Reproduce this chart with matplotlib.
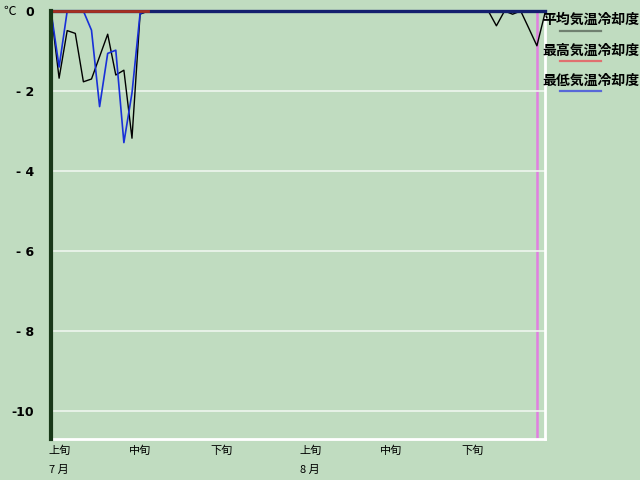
import numpy as np
import matplotlib
matplotlib.use("Agg")
import matplotlib.pyplot as plt
from matplotlib.transforms import blended_transform_factory, ScaledTranslation

# =====================
# 字体
# =====================

plt.rcParams['font.family'] = ['Noto Sans CJK JP', 'DejaVu Sans']
plt.rcParams['axes.unicode_minus'] = False

# =====================
# 数据 (7/1 - 8/31, 日别)
# =====================

avg_cool = [0, -1.68, -0.49, -0.56, -1.77, -1.70, -1.14, -0.58, -1.60, -1.48,
            -3.18, -0.08] + [0] * 43 + [-0.37, 0, -0.08, 0, -0.43, -0.87, -0.05]
max_cool = [0] * 13 + [None] * 49
min_cool = [0, -1.40, 0, 0, 0, -0.48, -2.39, -1.06, -0.98, -3.29,
            -2.05, -0.06] + [0] * 50

days = np.arange(len(avg_cool))
today = 60

tick_days = [0, 10, 20, 31, 41, 51]
tick_labels = ['上旬', '中旬', '下旬', '上旬', '中旬', '下旬']
month_days = [0, 31]
month_labels = ['7 月', '8 月']

y_ticks = [0, -2, -4, -6, -8, -10]
y_labels = ['0', '- 2', '- 4', '- 6', '- 8', '-10']

series_names = ['平均気温冷却度', '最高気温冷却度', '最低気温冷却度']
legend_colors = ['#708070', '#E07070', '#5868D8']

bg = '#C0DCC0'

# =====================
# 图表
# =====================

fig = plt.figure(figsize=(6.4, 4.8), dpi=100, facecolor=bg)
ax = fig.add_axes([51 / 640, 1 - 439 / 480, 494 / 640, 428 / 480])
ax.set_facecolor(bg)

ax.axvline(today, color='#E080E0', lw=1.8, zorder=1, clip_on=False)

ax.plot(days, avg_cool, color='black', lw=1.0, zorder=3, clip_on=False)
ax.plot(days, min_cool, color='#1830D8', lw=1.2, zorder=4, clip_on=False)
ax.plot(days, np.array(max_cool, dtype=float), color='#A83020', lw=2.0,
        zorder=6, clip_on=False)

ax.set_xlim(0, 61)
ax.set_ylim(-10.7, 0)

# 网格
ax.set_yticks(y_ticks)
ax.set_yticklabels(y_labels, fontsize=9, fontweight='bold',
                   family=['DejaVu Sans'])
ax.grid(axis='y', color='#EEF6EE', lw=1.2, zorder=0)
ax.tick_params(axis='y', length=0, pad=12)

# 旬标签 (左对齐, 稍微左移)
ax.set_xticks(tick_days)
ax.set_xticklabels(tick_labels, fontsize=8, ha='left')
ax.tick_params(axis='x', length=0, pad=5)
shift = ScaledTranslation(-3 / 100, 0, fig.dpi_scale_trans)
for lab in ax.get_xticklabels():
    lab.set_transform(lab.get_transform() + shift)

trans = blended_transform_factory(ax.transData, fig.transFigure)
for d, lab in zip(month_days, month_labels):
    ax.text(d - 0.2, 1 - 470 / 480, lab, transform=trans, fontsize=8,
            ha='left', va='center')

fig.text(10 / 640, 1 - 11 / 480, '℃', fontsize=9, ha='center', va='center')

# 边框
ax.spines['top'].set_color('#14206E')
ax.spines['top'].set_linewidth(2.4)
ax.spines['top'].set_zorder(5)
ax.spines['left'].set_color('#183818')
ax.spines['left'].set_linewidth(3)
ax.spines['left'].set_zorder(7)
ax.spines['bottom'].set_color('white')
ax.spines['bottom'].set_linewidth(2)
ax.spines['right'].set_color('white')
ax.spines['right'].set_linewidth(2)

# 图例
for i, (name, c) in enumerate(zip(series_names, legend_colors)):
    y_txt = 1 - (20 + 30.5 * i) / 480
    y_ln = 1 - (31 + 30 * i) / 480
    fig.text(542 / 640, y_txt, name, fontsize=10, fontweight='bold',
             ha='left', va='center')
    fig.add_artist(plt.Line2D([560 / 640, 601 / 640], [y_ln, y_ln],
                              color=c, lw=1.6))

fig.savefig('out.png', dpi=100, facecolor=bg)
